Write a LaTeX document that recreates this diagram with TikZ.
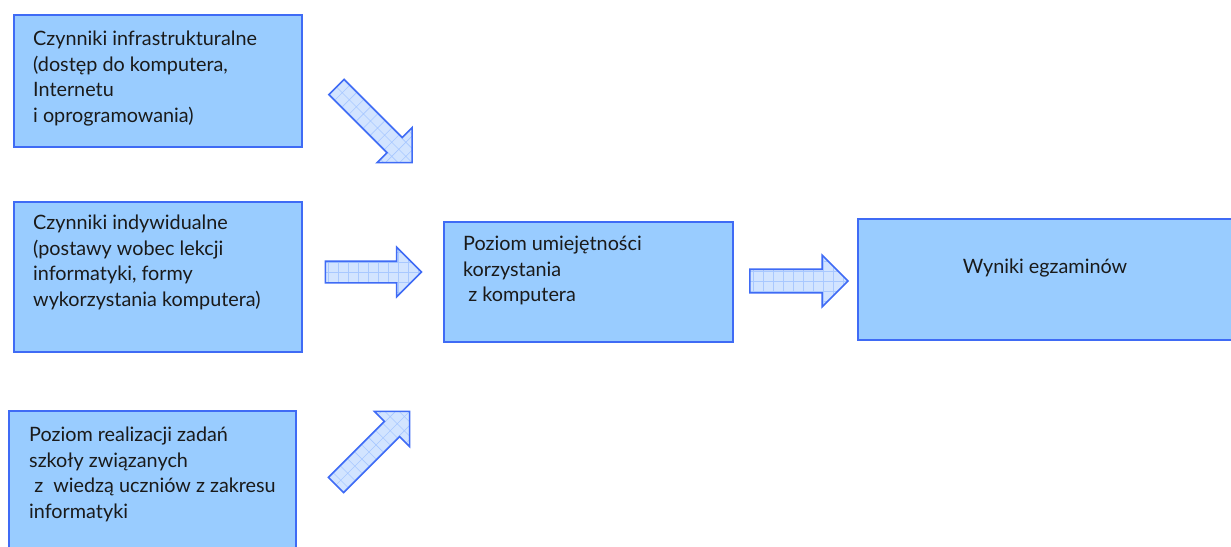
\documentclass[tikz,border=0pt]{standalone}
\usepackage{fontspec}
\setmainfont{Lato}
\usetikzlibrary{shapes.arrows}
\usetikzlibrary{positioning}
\definecolor{boxfill}{HTML}{99CCFF}
\definecolor{boxline}{HTML}{3F6BF5}
\definecolor{arrfill}{HTML}{D2E4FF}
\definecolor{arrgrid}{HTML}{A8C8FF}
\definecolor{txtcol}{HTML}{1A1A1A}

\tikzset{
  box/.style={draw=boxline, fill=boxfill, line width=1.6pt, rectangle, inner sep=0pt, anchor=north west},
  txt/.style={align=left, inner sep=0pt, anchor=north west, text=txtcol, font=\fontsize{19.8}{25.5}\selectfont},
  fatarrow/.style={single arrow, draw=boxline, fill=arrfill, line width=1.6pt, inner sep=0pt,
    inner ysep=10pt, single arrow head extend=14pt, single arrow tip angle=90,
    path picture={\draw[arrgrid, line width=0.6pt] (-65pt,-35pt) grid[step=10pt] (65pt,35pt);}}
}

\begin{document}
\begin{tikzpicture}[x=1pt, y=1pt]
      \useasboundingbox (0,0) rectangle (1231,-546);

      \node[box, minimum width=288pt, minimum height=132pt] (infra) at (13,-14)  {};
      \node[box, minimum width=288pt, minimum height=150pt] (indyw) at (13,-201) {};
      \node[box, minimum width=287pt, minimum height=150pt] (szkola) at (8,-410) {};
      \node[box, minimum width=289pt, minimum height=120pt] (poziom) at (443,-221) {};
      \node[box, minimum width=390pt, minimum height=121pt] (wyniki) at (857,-218) {};

      \node[txt] (t_infra)  [below right=17pt and 20pt of infra.north west, anchor=north west]
        {Czynniki infrastrukturalne\\(dostęp do komputera,\\Internetu\\i oprogramowania)};
      \node[txt] (t_indyw)  [below right=14pt and 20pt of indyw.north west, anchor=north west]
        {Czynniki indywidualne\\(postawy wobec lekcji\\informatyki, formy\\wykorzystania komputera)};
      \node[txt] (t_szkola) [below right=17pt and 21pt of szkola.north west, anchor=north west]
        {Poziom realizacji zadań\\szkoły związanych\\\ z\ \ wiedzą uczniów z zakresu\\informatyki};
      \node[txt] (t_poziom) [below right=15pt and 20pt of poziom.north west, anchor=north west]
        {Poziom umiejętności\\korzystania\\\ z komputera};
      \node[txt, anchor=center] (t_wyniki) at (1045,-268) {Wyniki egzaminów};

      \node[fatarrow, minimum height=107pt, rotate=-45] (a_infra)  at (370.5,-121) {};
      \node[fatarrow, minimum height=96pt]              (a_indyw)  at (368,-272)   {};
      \node[fatarrow, minimum height=104pt, rotate=45]  (a_szkola) at (369,-452)   {};
      \node[fatarrow, minimum height=98pt, inner ysep=11pt] (a_poziom) at (793,-281) {};
\end{tikzpicture}
\end{document}
